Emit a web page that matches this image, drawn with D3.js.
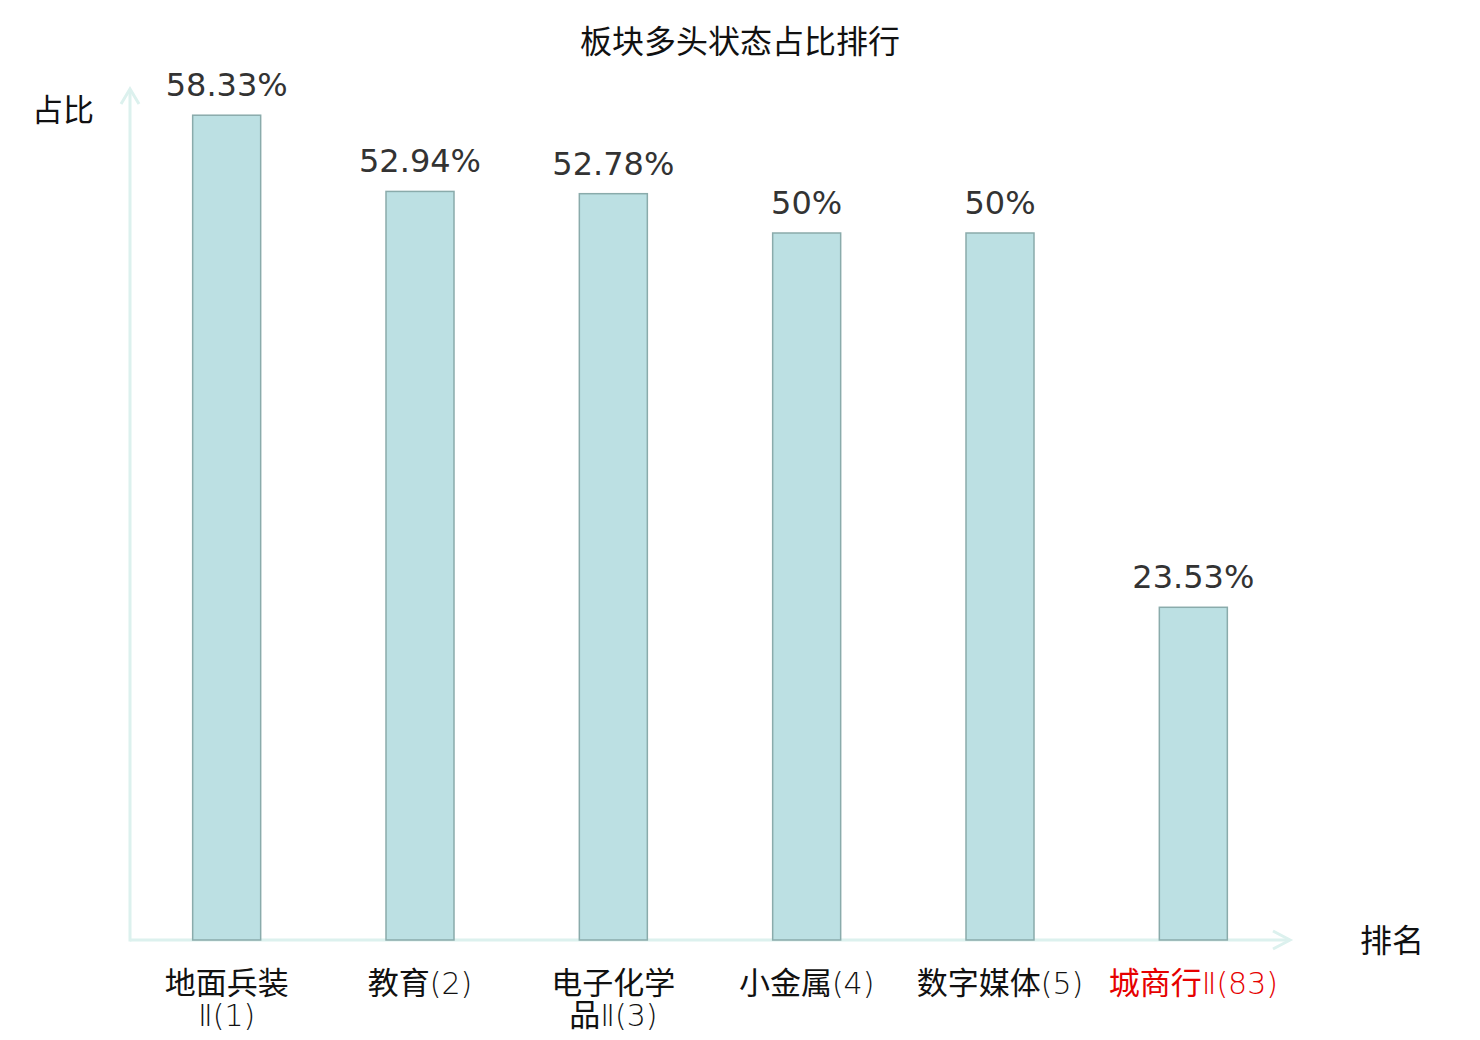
<!DOCTYPE html>
<html>
<head>
<meta charset="utf-8">
<script src="https://cdn.jsdelivr.net/npm/d3@7/dist/d3.min.js"></script>
<style>
  html, body { margin: 0; padding: 0; background: #fff; }
  svg { display: block; }
</style>
</head>
<body>
<svg id="chart" width="1480" height="1040"></svg>
<script>
// ---- data ----
const categories = ["地面兵装\nⅡ(1)", "教育(2)", "电子化学\n品Ⅱ(3)", "小金属(4)", "数字媒体(5)", "城商行Ⅱ(83)"];
const values = [58.33, 52.94, 52.78, 50, 50, 23.53];
const valueLabels = ["58.33%", "52.94%", "52.78%", "50%", "50%", "23.53%"];
const highlighted = [false, false, false, false, false, true];
const title = "板块多头状态占比排行";
const yName = "占比";
const xName = "排名";

// ---- layout ----
const x0 = 130, x1 = 1290, yBase = 940;
const cjk = "'Noto Sans CJK SC', 'Noto Sans', sans-serif";
const num = "'DejaVu Sans', sans-serif";

const svg = d3.select("#chart");

const x = d3.scaleBand().domain(categories).range([x0, x1]).paddingInner(0).paddingOuter(0);
const y = d3.scaleLinear().domain([0, 60]).range([yBase, yBase - 60 * 14.14]);
const barW = 68;

// title
svg.append("text")
  .attr("x", 740).attr("y", 53)
  .attr("text-anchor", "middle")
  .style("font-family", cjk).style("font-size", "32px").attr("fill", "#111")
  .text(title);

// axes lines
const axisColor = "#dcf1ee";
const g = svg.append("g");
g.append("line").attr("x1", x0).attr("x2", x0).attr("y1", yBase + 1.5).attr("y2", 89)
  .attr("stroke", axisColor).attr("stroke-width", 3);
g.append("path").attr("d", `M${x0 - 9},${104} L${x0},${89} L${x0 + 9},${104}`)
  .attr("fill", "none").attr("stroke", axisColor).attr("stroke-width", 3);

// bars
svg.append("g").selectAll("rect").data(categories).join("rect")
  .attr("x", d => x(d) + x.bandwidth() / 2 - barW / 2)
  .attr("y", (d, i) => y(values[i]))
  .attr("width", barW)
  .attr("height", (d, i) => yBase - y(values[i]))
  .attr("fill", "#bce0e3")
  .attr("stroke", "#8aabab")
  .attr("stroke-width", 1.5);

g.append("line").attr("x1", x0).attr("x2", x1).attr("y1", yBase).attr("y2", yBase)
  .attr("stroke", axisColor).attr("stroke-width", 3);
g.append("path").attr("d", `M${x1 - 17},${yBase - 9} L${x1},${yBase} L${x1 - 17},${yBase + 9}`)
  .attr("fill", "none").attr("stroke", axisColor).attr("stroke-width", 3);

// value labels
svg.append("g").selectAll("text").data(categories).join("text")
  .attr("x", d => x(d) + x.bandwidth() / 2)
  .attr("y", (d, i) => y(values[i]) - 19)
  .attr("text-anchor", "middle")
  .style("font-family", num).style("font-size", "32px").attr("fill", "#333")
  .text((d, i) => valueLabels[i]);

// category labels
const labs = svg.append("g").selectAll("text").data(categories).join("text")
  .attr("x", d => x(d) + x.bandwidth() / 2)
  .attr("y", 994)
  .attr("text-anchor", "middle")
  .style("font-family", cjk).style("font-size", "31px")
  .attr("fill", (d, i) => highlighted[i] ? "#e60000" : "#111");
labs.each(function(d) {
  const lines = d.split("\n");
  const t = d3.select(this);
  lines.forEach((ln, k) => {
    const ts = t.append("tspan").attr("x", x(d) + x.bandwidth() / 2).attr("dy", k === 0 ? 0 : 32);
    // split into CJK part and latin/roman part so the latter can be lighter
    const parts = ln.match(/[\u4e00-\u9fff]+|[^\u4e00-\u9fff]+/g) || [];
    parts.forEach(p => {
      const isCjk = /[\u4e00-\u9fff]/.test(p);
      const s = ts.append("tspan").text(p);
      if (!isCjk) {
        s.style("font-family", "'DejaVu Sans', sans-serif").style("font-weight", "200").style("font-size", "30px");
      }
    });
  });
});

// axis names
svg.append("text").attr("x", 63).attr("y", 121).attr("text-anchor", "middle")
  .style("font-family", cjk).style("font-size", "31px").attr("fill", "#111").text(yName);
svg.append("text").attr("x", 1392).attr("y", 952).attr("text-anchor", "middle")
  .style("font-family", cjk).style("font-size", "32px").attr("fill", "#111").text(xName);
</script>
</body>
</html>
